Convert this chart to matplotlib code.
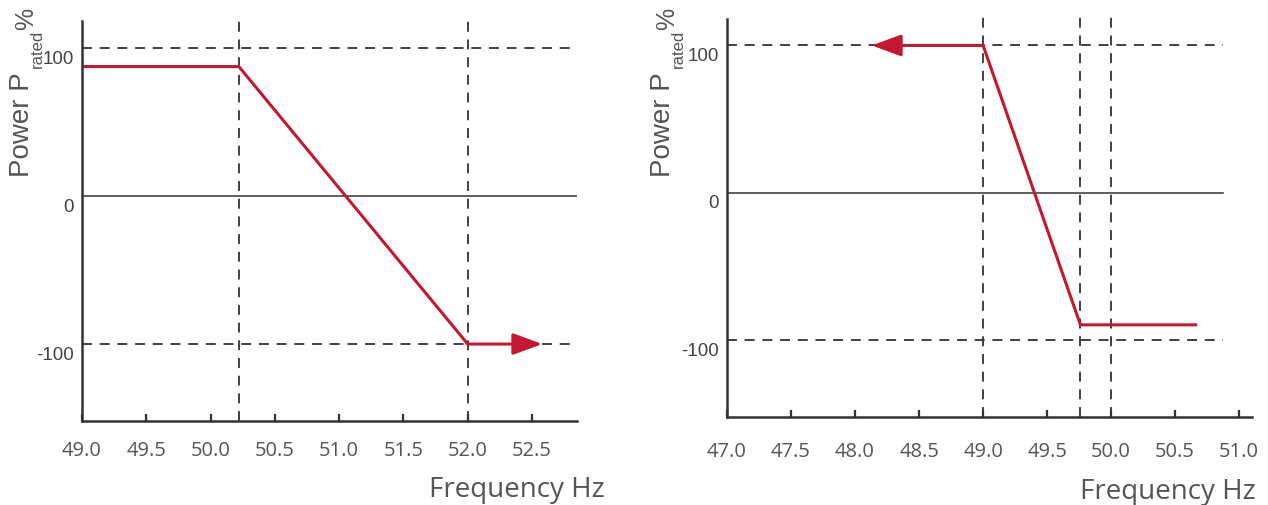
import matplotlib.pyplot as plt
from matplotlib.transforms import ScaledTranslation

plt.rcParams['font.family'] = 'Open Sans'

# left chart: power goes down with over-frequency
left_freq = [49.0, 50.22, 52.0]
left_power = [87.5, 87.5, -100]
left_arrow = [52.0, 52.58]          # arrow start / tip on the -100 line
left_vlines = [50.22, 52.0]
left_xticks = [49.0, 49.5, 50.0, 50.5, 51.0, 51.5, 52.0, 52.5]
left_xlabels = ['49.0', '49.5', '50.0', '50.5', '51.0', '51.5', '52.0', '52.5']
left_xlim = (49.0, 52.85)
left_line_end = 52.85

# right chart: power goes up with under-frequency
right_freq = [49.0, 49.76, 50.66]
right_power = [100, -89.5, -89.5]
right_arrow = [49.0, 48.13]         # arrow start / tip on the 100 line
right_vlines = [49.0, 49.76, 50.0]
right_xticks = [47.0, 47.5, 48.0, 48.5, 49.0, 49.5, 50.0, 50.5, 51.0]
right_xlabels = ['47.0', '47.5', '48.0', '48.5', '49.0', '49.5', '50.0', '50.5', '51.0']
right_xlim = (47.0, 51.1)
right_line_end = 50.87

yticks = [100, 0, -100]
ylabels = ['100', '0', '-100']
ylim = (-152, 122)

red = '#c3182f'
dark = '#333333'
grey = '#555555'
W, H = 1268, 506

fig = plt.figure(figsize=(W / 100, H / 100), dpi=100)


def panel(rect, freq, power, arrow, vlines, xticks, xlabels, xlim, line_end, xpad):
    ax = fig.add_axes(rect)
    ax.set_xlim(xlim)
    ax.set_ylim(ylim)
    for s in ['top', 'right']:
        ax.spines[s].set_visible(False)
    for s in ['left', 'bottom']:
        ax.spines[s].set_color(dark)
        ax.spines[s].set_linewidth(1.8)
    ax.spines['left'].set_bounds(ylim[0], 118)

    # reference lines
    ax.plot([xlim[0], line_end], [0, 0], color=dark, lw=1.1)
    for yv in [100, -100]:
        ax.plot([xlim[0], line_end], [yv, yv], color=dark, lw=1.3, ls=(0, (5.5, 4.3)))
    for xv in vlines:
        ax.plot([xv, xv], [ylim[0], ylim[1]], color=dark, lw=1.3, ls=(0, (5.5, 4.3)))

    # curve + arrow
    ax.plot(freq, power, color=red, lw=2.2, solid_joinstyle='miter')
    ya = power[0] if arrow[0] == freq[0] else power[-1]
    ax.annotate('', xy=(arrow[1], ya), xytext=(arrow[0], ya),
                arrowprops=dict(arrowstyle='-|>,head_length=0.9,head_width=0.33',
                                color=red, lw=2.2, mutation_scale=20,
                                shrinkA=0, shrinkB=0))

    ax.set_xticks(xticks, xlabels)
    ax.tick_params(axis='x', direction='in', length=5, width=1.6, color=dark,
                   pad=xpad, labelsize=14.5, labelcolor=grey)
    ax.set_yticks(yticks, ylabels)
    ax.tick_params(axis='y', length=0, pad=6, labelsize=13.5, labelcolor='#444444')
    for lbl in ax.get_yticklabels():
        lbl.set_fontfamily('Liberation Sans')
        lbl.set_transform(lbl.get_transform() + ScaledTranslation(0, -0.08, fig.dpi_scale_trans))
    return ax


ax1 = panel([82 / W, (H - 422) / H, 495 / W, 405.5 / H],
            left_freq, left_power, left_arrow, left_vlines,
            left_xticks, left_xlabels, left_xlim, left_line_end, 14)
ax2 = panel([727 / W, (H - 418) / H, 525 / W, 404 / H],
            right_freq, right_power, right_arrow, right_vlines,
            right_xticks, right_xlabels, right_xlim, right_line_end, 17)

# y titles "Power P_rated %", built from three pieces (baseline anchored)
ylab_parts = [('Power P', 20, 29, 177), ('rated', 12, 42, 68), ('%', 18, 33, 30)]
for dx in [0, 641]:
    for txt, size, bx, by in ylab_parts:
        fig.text((bx + dx) / W, (H - by) / H, txt, rotation=90, rotation_mode='anchor',
                 ha='left', va='baseline', fontsize=size, family='Liberation Sans', color=grey)

for x1, yc in [(605, 490), (1256, 492)]:
    fig.text(x1 / W, (H - yc) / H, 'Frequency Hz', ha='right', va='center',
             fontsize=20, color=grey)

plt.savefig('out.png', dpi=100)
